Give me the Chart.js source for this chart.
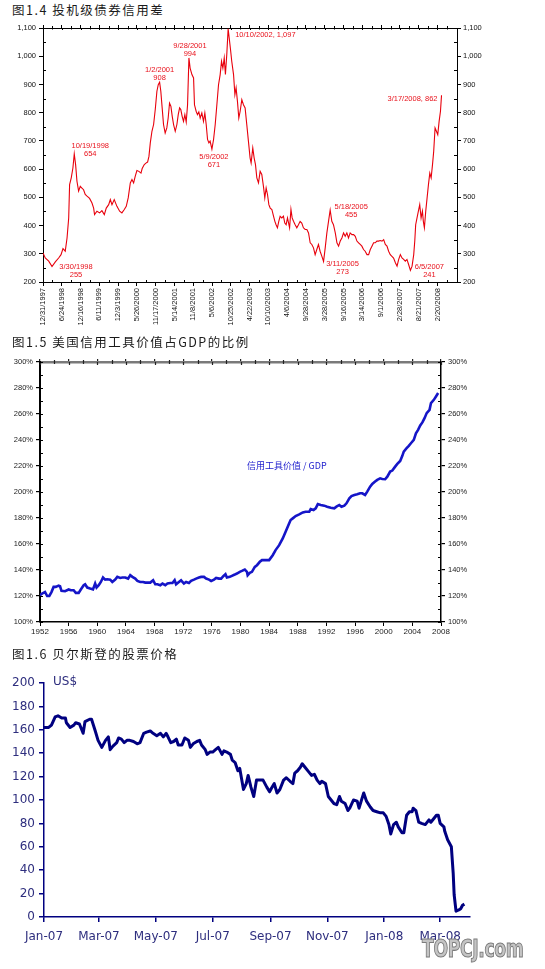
<!DOCTYPE html>
<html><head><meta charset="utf-8">
<script src="https://cdn.jsdelivr.net/npm/chart.js@4.4.1/dist/chart.umd.min.js"></script>
<style>
html,body{margin:0;padding:0;background:#fff;width:545px;height:969px;overflow:hidden;position:relative;}
.t{position:absolute;left:12px;font-family:'Noto Sans CJK SC',sans-serif;font-size:12.5px;letter-spacing:1.5px;color:#1a1a1a;line-height:1;white-space:nowrap;}
canvas{position:absolute;left:0;}
#lbl2{position:absolute;left:247px;top:461px;font-family:'Noto Sans CJK SC',sans-serif;font-size:9px;color:#1a1acc;white-space:nowrap;line-height:1;}
#us{position:absolute;left:53px;top:675px;font-family:'DejaVu Sans',sans-serif;font-size:12px;color:#2e2e7e;line-height:1;}
#wm{position:absolute;left:422px;top:936px;font-family:'DejaVu Sans Condensed','DejaVu Sans',sans-serif;font-weight:bold;font-size:24px;color:#c4c4c4;-webkit-text-stroke:1px #7c7c7c;letter-spacing:-0.5px;line-height:1;white-space:nowrap;transform-origin:0 0;transform:scale(0.8,1.05);}
</style></head><body>
<div class="t" style="top:4px">图1.4 投机级债券信用差</div>
<canvas id="c1" width="545" height="315" style="top:20px"></canvas>
<div class="t" style="top:336px">图1.5 美国信用工具价值占GDP的比例</div>
<canvas id="c2" width="545" height="293" style="top:352px"></canvas>
<div id="lbl2">信用工具价值 / GDP</div>
<div class="t" style="top:648px">图1.6 贝尔斯登的股票价格</div>
<canvas id="c3" width="545" height="304" style="top:665px"></canvas>
<div id="us">US$</div>
<div id="wm">TOPCJ.com</div>
<script>
// ---------- Chart 1: speculative-grade bond spread (bp), x = trading-day index ----------
const spreadTickLabels = ['12/31/1997','6/24/1998','12/16/1998','6/11/1999','12/3/1999','5/26/2000','11/17/2000','5/14/2001','11/8/2001','5/6/2002','10/25/2002','4/22/2003','10/10/2003','4/6/2004','9/28/2004','3/28/2005','9/16/2005','3/14/2006','9/1/2006','2/28/2007','8/21/2007','2/20/2008'];
const spreadTickStep = 125;
const spreadIdx = [
0,15,38,60,82,104,120,133,148,160,
171,177,188,199,208,217,226,237,248,259,
270,281,293,310,326,337,343,359,377,392,
408,421,437,448,459,474,492,510,525,541,
554,567,581,592,603,614,625,638,652,660,
674,687,696,705,714,725,736,747,758,767,
776,784,793,802,813,824,833,842,851,860,
869,880,891,900,909,917,926,935,944,953,
962,971,979,991,1002,1008,1019,1028,1037,1046,
1057,1068,1077,1086,1095,1104,1112,1124,1135,1146,
1157,1168,1179,1188,1197,1206,1214,1223,1232,1239,
1248,1256,1268,1277,1285,1294,1303,1312,1323,1334,
1345,1356,1367,1378,1385,1396,1405,1414,1423,1434,
1445,1456,1467,1476,1485,1494,1503,1512,1523,1534,
1543,1551,1560,1569,1578,1589,1600,1609,1618,1627,
1641,1650,1658,1667,1678,1689,1700,1711,1722,1733,
1745,1756,1767,1778,1789,1800,1811,1822,1833,1844,
1856,1867,1878,1889,1900,1911,1922,1933,1945,1956,
1967,1978,1989,2000,2011,2022,2033,2044,2056,2067,
2078,2089,2100,2111,2122,2133,2144,2156,2167,2178,
2189,2200,2211,2222,2233,2244,2256,2267,2278,2289,
2300,2311,2322,2333,2345,2356,2367,2378,2389,2400,
2411,2422,2433,2445,2456,2467,2474,2480,2489,2498,
2507,2516,2525,2531,2538,2547,2556,2565,2574,2583,
2592,2600,2609,2618,2627,2636,2645,2652];
const spreadBp = [
303,285,274,255,271,285,297,318,309,356,
427,545,569,604,654,616,557,522,539,533,
527,510,504,496,480,462,439,451,445,453,
439,462,474,492,474,492,468,451,445,457,
468,498,551,563,551,575,595,592,586,602,
616,622,625,645,693,734,758,811,876,899,
908,876,817,758,728,746,781,834,823,787,
758,734,758,793,817,811,787,769,793,767,
828,994,958,935,923,828,805,793,803,781,
799,769,799,758,705,693,699,671,705,758,
828,899,935,982,958,994,935,1006,1097,1065,
1023,982,935,864,888,840,781,805,846,828,
817,758,699,640,622,675,640,616,569,551,
592,581,539,498,533,510,474,462,457,433,
415,403,392,415,433,427,433,409,403,427,
392,457,427,415,403,392,403,415,409,392,
386,386,374,339,333,321,297,315,333,309,
291,273,321,374,415,455,415,403,374,339,
327,345,356,374,362,374,356,374,368,368,
362,345,339,333,327,315,309,297,297,315,
327,339,339,345,345,347,345,350,333,327,
309,297,291,285,268,256,280,297,285,280,
274,280,262,241,256,297,345,403,427,451,
474,427,451,415,392,451,498,545,586,569,
616,663,746,734,722,769,805,862];
const noteIdx = [60,208,776,971,1124,1232,1867,1911,2445,2652];
const noteVal = [255,654,908,994,671,1097,273,455,241,862];
const noteText = [['3/30/1998','255'],['10/19/1998','654'],['1/2/2001','908'],['9/28/2001','994'],['5/9/2002','671'],['10/10/2002, 1,097'],['3/11/2005','273'],['5/18/2005','455'],['6/5/2007','241'],['3/17/2008, 862']];

// ---------- Chart 2: US credit market instruments / GDP (%) ----------
const gdpYear = [
1952.0,1952.3,1952.7,1953.0,1953.3,1953.6,1953.9,1954.2,1954.6,1954.8,
1955.0,1955.5,1956.0,1956.3,1956.7,1957.0,1957.4,1957.7,1958.1,1958.3,
1958.6,1959.0,1959.4,1959.7,1959.9,1960.2,1960.5,1960.8,1961.1,1961.4,
1961.8,1962.1,1962.5,1962.8,1963.2,1963.5,1963.9,1964.3,1964.6,1964.9,
1965.3,1965.6,1966.0,1966.4,1966.7,1967.1,1967.4,1967.8,1968.1,1968.4,
1968.8,1969.1,1969.5,1969.8,1970.2,1970.5,1970.8,1971.0,1971.4,1971.7,
1972.1,1972.4,1972.8,1973.1,1973.5,1973.8,1974.2,1974.5,1974.9,1975.2,
1975.6,1975.9,1976.3,1976.6,1977.0,1977.3,1977.6,1977.9,1978.1,1978.5,
1978.8,1979.2,1979.5,1979.9,1980.2,1980.6,1980.9,1981.0,1981.3,1981.6,
1982.0,1982.3,1982.7,1983.0,1983.5,1984.0,1984.5,1984.9,1985.4,1985.9,
1986.3,1986.7,1987.0,1987.3,1987.7,1988.2,1988.7,1989.1,1989.6,1989.8,
1990.2,1990.5,1990.8,1991.2,1991.7,1992.1,1992.6,1993.1,1993.4,1993.8,
1994.1,1994.5,1994.8,1995.2,1995.5,1995.9,1996.3,1996.7,1997.0,1997.4,
1997.7,1998.1,1998.4,1998.8,1999.1,1999.5,1999.8,2000.2,2000.5,2000.9,
2001.2,2001.6,2001.9,2002.3,2002.6,2002.8,2003.2,2003.5,2003.8,2004.2,
2004.5,2004.8,2005.1,2005.4,2005.7,2006.0,2006.4,2006.6,2007.0,2007.3,
2007.6];
const gdpPct = [
120.6,121.9,123.1,120,120,123,127,127,128,127.5,
124,123.7,125,124.4,124.4,122.4,122.4,125,128.3,129,
126.5,125.7,125,129.6,126.5,128.3,130.8,134.2,132.6,132.9,
132.6,130.8,132.6,134.7,133.9,134.2,134.2,133.4,136,134.7,
133.4,131.6,130.8,130.8,130.3,130.3,130.3,132.1,129,129,
128.3,129.6,128.3,129.6,130,130,132.1,129,130.8,132.1,
129.6,130.8,130,131.6,132.6,133.4,134.2,134.7,134.7,133.4,
132.6,131.6,132.6,133.9,133.4,133.4,135.2,136.8,134.2,134.7,
135.5,136.5,137.3,138.6,139.3,140.4,138.6,136,137.8,138.6,
142.4,143.7,146.3,147.6,147.6,147.6,151.4,155.3,159.1,164.3,
169.4,174.6,178.4,179.7,181.5,182.8,184.3,184.8,184.8,186.9,
186.1,187.4,190.7,190,189.5,188.7,187.9,187.4,188.7,190,
188.7,189.5,191.3,195.1,196.9,197.7,198.2,199,199,197.7,
200.3,204.1,206.2,208,209.3,210.5,210,209.8,211.8,215.7,
216.5,219.5,221.6,223.9,227.8,231.1,233.7,235.5,237.5,240.1,
245.2,247.8,251.2,253.5,256.8,260.7,263.2,268.4,270.9,273.5,
276.1];

// ---------- Chart 3: Bear Stearns share price (US$), x = days since 2007-01-01 ----------
const bearTickDays = [0,59,120,181,243,304,365,425];
const bearTickLabels = ['Jan-07','Mar-07','May-07','Jul-07','Sep-07','Nov-07','Jan-08','Mar-08'];
const bearDay = [
0,5,8,12,15,19,23,24,28,32,
34,38,42,44,49,51,55,58,62,66,
69,71,74,78,80,83,86,89,92,96,
100,103,107,110,114,117,121,125,128,131,
133,136,139,142,144,148,151,155,157,160,
164,167,169,173,175,178,181,184,187,191,
193,196,200,202,205,208,210,214,217,219,
222,225,228,232,235,239,242,
244,247,250,253,257,260,264,267,269,272,
275,277,280,284,287,290,293,296,298,302,
305,308,311,314,317,319,323,326,328,332,
336,338,341,343,346,350,353,357,361,364,
367,370,372,375,378,380,384,386,389,392,
395,396,399,402,405,409,413,415,418,421,
423,425,429,430,433,437,439,440,442,445,
447,449,451];
const bearPrice = [
162,162,164,171,172,170,170,166,162,164,
166,165,157,167,169,169,159,151,145,151,
154,143,146,149,153,152,149,151,151,150,
148,149,157,158,159,157,155,157,154,157,
154,149,150,152,147,147,153,151,145,148,
150,151,147,143,139,141,141,143,145,139,
142,141,139,134,132,125,127,109,114,121,
111,103,117,117,117,111,107,
110,114,106,109,117,119,116,114,123,125,
128,131,128,124,121,122,117,114,116,114,
103,100,97,96,103,99,97,91,93,100,
99,93,101,106,99,94,91,90,89,89,
86,79,71,79,81,77,72,72,87,90,
90,93,91,81,80,79,83,81,84,87,
87,80,77,73,66,60,37,19,5,6,
7,10,11];

// ---------- helpers ----------
Chart.defaults.font.family = "'Liberation Sans', Arial, sans-serif";
Chart.defaults.animation = false;
Chart.defaults.plugins.legend.display = false;
Chart.defaults.plugins.tooltip.enabled = false;

const extraTicks = {
  id: 'extraTicks',
  afterDraw(chart, args, opts) {
    const ctx = chart.ctx, ca = chart.chartArea;
    (opts.items || []).forEach(it => {
      const sc = chart.scales[it.axis];
      ctx.save();
      ctx.strokeStyle = it.color || '#000';
      ctx.lineWidth = it.width || 1;
      ctx.beginPath();
      it.values.forEach(v => {
        const p = Math.round(sc.getPixelForValue(v)) + 0.5;
        if (it.edge === 'top' || it.edge === 'bottom') {
          const y0 = it.edge === 'top' ? ca.top : ca.bottom;
          ctx.moveTo(p, y0 + it.from); ctx.lineTo(p, y0 + it.to);
        } else {
          const x0 = it.edge === 'left' ? ca.left : ca.right;
          ctx.moveTo(x0 + it.from, p); ctx.lineTo(x0 + it.to, p);
        }
      });
      ctx.stroke();
      ctx.restore();
    });
  }
};

const notesPlugin = {
  id: 'notes',
  afterDatasetsDraw(chart, args, opts) {
    const ctx = chart.ctx, xs = chart.scales.x, ys = chart.scales.y;
    ctx.save();
    ctx.fillStyle = opts.color;
    ctx.font = opts.font;
    ctx.textBaseline = 'middle';
    noteIdx.forEach((ix, k) => {
      const px = xs.getPixelForValue(ix), py = ys.getPixelForValue(noteVal[k]);
      const lay = opts.layout[k];
      ctx.textAlign = lay[2];
      noteText[k].forEach((line, j) => ctx.fillText(line, px + lay[0], py + lay[1] + j * 7.8));
    });
    ctx.restore();
  }
};

function range(a, b, s) { const r = []; for (let v = a; v <= b + 1e-9; v += s) r.push(v); return r; }

// ---------- Chart 1 ----------
const maxIdx1 = 2755;
const tick1 = () => spreadTickLabels.map((l, i) => ({ value: i * spreadTickStep }));
const ax1 = { drawOnChartArea: false, color: '#000', tickLength: 4, lineWidth: 1 };
new Chart(document.getElementById('c1'), {
  type: 'line',
  data: { datasets: [{ data: spreadIdx.map((x, i) => ({ x, y: spreadBp[i] })), borderColor: '#e8000c', borderWidth: 1.1, pointRadius: 0, tension: 0 }] },
  options: {
    responsive: false,
    layout: { padding: 0 },
    scales: {
      x: { type: 'linear', position: 'bottom', min: 0, max: maxIdx1,
        afterBuildTicks: s => { s.ticks = tick1(); },
        ticks: { autoSkip: false, minRotation: 90, maxRotation: 90, padding: 2, color: '#111', font: { size: 7.5 }, callback: (v, i) => spreadTickLabels[i] },
        grid: ax1, border: { color: '#000', width: 1 },
        afterFit: s => { s.height = 53; } },
      x2: { type: 'linear', position: 'top', min: 0, max: maxIdx1,
        afterBuildTicks: s => { s.ticks = tick1(); },
        ticks: { display: false },
        grid: { drawOnChartArea: false, color: '#000', tickLength: 3 }, border: { color: '#000', width: 1 },
        afterFit: s => { s.height = 8; } },
      y: { position: 'left', min: 200, max: 1100,
        ticks: { stepSize: 100, padding: 3, color: '#111', font: { size: 7.5 }, callback: v => v.toLocaleString('en-US') },
        grid: ax1, border: { color: '#000', width: 1 },
        afterFit: s => { s.width = 43; } },
      y2: { position: 'right', min: 200, max: 1100,
        ticks: { stepSize: 100, padding: 2, color: '#111', font: { size: 7.5 }, callback: v => v.toLocaleString('en-US') },
        grid: ax1, border: { color: '#000', width: 1 },
        afterFit: s => { s.width = 88; } }
    },
    plugins: {
      notes: { color: '#e8101a', font: "7.5px 'Liberation Sans', Arial, sans-serif",
        layout: [[24,0.5,'center'],[16,-8,'center'],[0,-12,'center'],[1,-12,'center'],[2,8,'center'],[7,6,'left'],[19,3,'center'],[21,-3,'center'],[19,-3,'center'],[-4,4,'right']] },
      extraTicks: { items: [
        { axis: 'x2', edge: 'top', values: range(0, 2625, 125), from: 0, to: 2 },
        { axis: 'x2', edge: 'top', values: range(62.5, 2700, 125), from: -2, to: 1.5 },
        { axis: 'y', edge: 'left', values: range(250, 1050, 100), from: 0, to: 3 },
        { axis: 'y2', edge: 'right', values: range(250, 1050, 100), from: -3, to: 0 },
        { axis: 'x', edge: 'bottom', values: range(62.5, 2700, 125), from: -2, to: 0 }
      ] }
    }
  },
  plugins: [extraTicks, notesPlugin]
});

// ---------- Chart 2 ----------
new Chart(document.getElementById('c2'), {
  type: 'line',
  data: { datasets: [{ data: gdpYear.map((x, i) => ({ x, y: gdpPct[i] })), borderColor: '#1515c8', borderWidth: 2.6, pointRadius: 0, tension: 0 }] },
  options: {
    responsive: false,
    layout: { padding: 0 },
    scales: {
      x: { type: 'linear', position: 'bottom', min: 1952, max: 2008,
        ticks: { stepSize: 4, padding: 1, color: '#222', font: { size: 8 }, callback: v => String(v) },
        grid: { drawOnChartArea: false, color: '#000', tickLength: 4 }, border: { color: '#000', width: 1.5 },
        afterFit: s => { s.height = 23; } },
      x2: { type: 'linear', position: 'top', min: 1952, max: 2008,
        ticks: { display: false, stepSize: 4 },
        grid: { drawOnChartArea: false, color: '#222', tickLength: 3, lineWidth: 1.2 }, border: { color: '#7a7a7a', width: 2.5 },
        afterFit: s => { s.height = 10; } },
      y: { position: 'left', min: 100, max: 300,
        ticks: { stepSize: 20, padding: 3, color: '#222', font: { size: 7.5 }, callback: v => v + '%' },
        grid: { drawOnChartArea: false, color: '#000', tickLength: 4, lineWidth: 1.2 }, border: { color: '#000', width: 2 },
        afterFit: s => { s.width = 40; } },
      y2: { position: 'right', min: 100, max: 300,
        ticks: { stepSize: 20, padding: 3, color: '#222', font: { size: 7.5 }, callback: v => v + '%' },
        grid: { drawOnChartArea: false, color: '#000', tickLength: 4, lineWidth: 1.2 }, border: { color: '#000', width: 1.5 },
        afterFit: s => { s.width = 104; } }
    },
    plugins: {
      extraTicks: { items: [
        { axis: 'x2', edge: 'top', values: range(1952, 2008, 4), from: 0, to: 3, width: 1.2, color: '#222' },
        { axis: 'x2', edge: 'top', values: range(1954, 2006, 4), from: -2, to: 2, width: 1.2, color: '#222' },
        { axis: 'y', edge: 'left', values: range(100, 300, 20), from: 0, to: 3, width: 1.2 },
        { axis: 'y', edge: 'left', values: range(110, 290, 20), from: 0, to: 3, width: 1.2 },
        { axis: 'y2', edge: 'right', values: range(100, 300, 20), from: -3, to: 0, width: 1.2 },
        { axis: 'y2', edge: 'right', values: range(110, 290, 20), from: -3, to: 0, width: 1.2 }
      ] }
    }
  },
  plugins: [extraTicks]
});

// ---------- Chart 3 ----------
const navy = '#000080', navyText = '#2e2e7e';
new Chart(document.getElementById('c3'), {
  type: 'line',
  data: { datasets: [{ data: bearDay.map((x, i) => ({ x, y: bearPrice[i] })), borderColor: navy, borderWidth: 3, pointRadius: 0, tension: 0, borderJoinStyle: 'round' }] },
  options: {
    responsive: false,
    layout: { padding: { top: 18, right: 75, left: 0, bottom: 0 } },
    scales: {
      x: { type: 'linear', position: 'bottom', min: 0, max: 457,
        afterBuildTicks: s => { s.ticks = bearTickDays.map(v => ({ value: v })); },
        ticks: { autoSkip: false, maxRotation: 0, padding: 8, color: navyText, font: { size: 12, family: "'DejaVu Sans', sans-serif" }, callback: (v, i) => bearTickLabels[i] },
        grid: { drawOnChartArea: false, color: navy, tickLength: 5, lineWidth: 1.5 }, border: { color: navy, width: 1.5 },
        afterFit: s => { s.height = 52; } },
      y: { position: 'left', min: 0, max: 200,
        ticks: { stepSize: 20, padding: 4, color: navyText, font: { size: 12, family: "'DejaVu Sans', sans-serif" } },
        grid: { drawOnChartArea: false, color: navy, tickLength: 5, lineWidth: 1.5 }, border: { color: navy, width: 1.5 },
        afterFit: s => { s.width = 44; } }
    }
  }
});
</script>
</body></html>
